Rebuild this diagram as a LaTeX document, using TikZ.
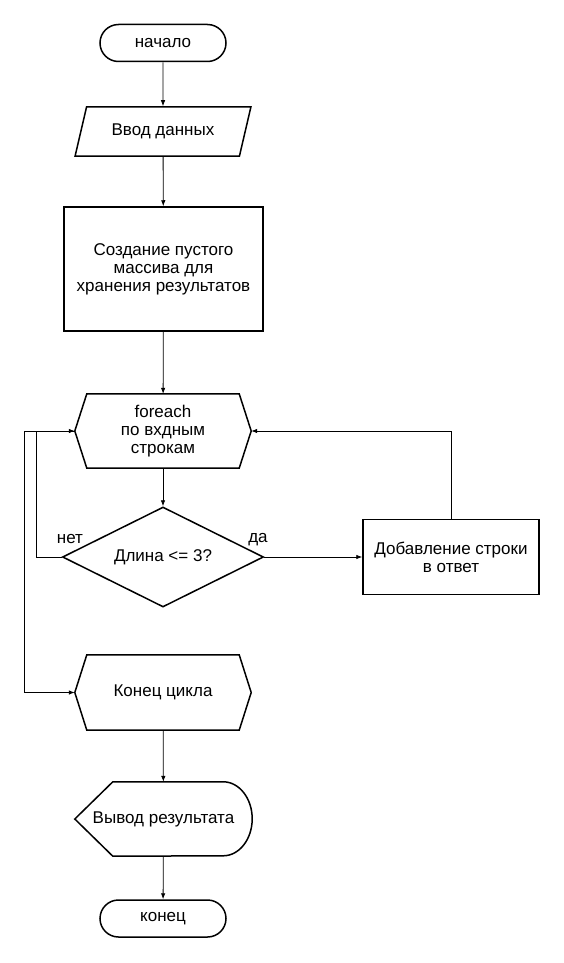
\documentclass[tikz,border=0pt]{standalone}
\usepackage{fontspec}
\setmainfont{Liberation Sans}
\usetikzlibrary{shapes.geometric,shapes.misc,arrows.meta}
\begin{document}
\begin{tikzpicture}[x=1pt,y=-1pt,
  every node/.style={font=\fontsize{17}{18}\selectfont, align=center, inner sep=0pt},
  shapeline/.style={draw, line width=1.5pt},
  termbox/.style={shapeline, rounded rectangle, minimum width=126pt, minimum height=37pt},
  iobox/.style={shapeline, trapezium, trapezium left angle=63, trapezium right angle=117,
    trapezium stretches=true, minimum width=176pt, minimum height=49pt},
  procbox/.style={shapeline, rectangle},
  ifbox/.style={shapeline, diamond, aspect=2, minimum width=201pt, minimum height=100pt},
  loopbox/.style={minimum width=176pt, minimum height=74pt,
    append after command={\pgfextra{\let\hexnode\tikzlastnode
      \draw[line width=1.5pt] ([xshift=12pt]\hexnode.north west) -- ([xshift=-12pt]\hexnode.north east)
        -- (\hexnode.east) -- ([xshift=-12pt]\hexnode.south east)
        -- ([xshift=12pt]\hexnode.south west) -- (\hexnode.west) -- cycle;}}},
  outbox/.style={minimum width=177pt, minimum height=74pt,
    append after command={\pgfextra{\let\outnode\tikzlastnode
      \draw[line width=1.5pt] (\outnode.west) -- ([xshift=38pt]\outnode.north west)
        -- ([xshift=-29pt]\outnode.north east) arc[start angle=90, end angle=-90, x radius=29pt, y radius=37pt]
        -- ([xshift=38pt]\outnode.south west) -- cycle;}}},
  arr/.style={-{Latex[length=6pt,width=4.5pt]}, line width=0.8pt}]
\useasboundingbox (0,0) rectangle (563,963);
% draw the blocks
\node[termbox] (start) at (163,43) {начало};
\node[iobox] (input) at (163,131.5) {Ввод данных};
\node[procbox, minimum width=199pt, minimum height=124pt] (init) at (163.5,269) {Создание пустого\\массива для\\хранения результатов};
\node[loopbox] (loop) at (163,431) {foreach\\по вхдным\\строкам};
\node[ifbox] (cond) at (163,557) {Длина <= 3?};
\node[procbox, minimum width=176pt, minimum height=75pt] (add) at (451,557) {Добавление строки\\в ответ};
\node[loopbox, minimum height=75pt] (endloop) at (163,692.5) {Конец цикла};
\node[outbox] (out) at (163.5,819) {Вывод результата};
\node[termbox] (stop) at (163,918.5) {конец};
% draw the arrows
\draw[arr] (start) -- (input);
\draw[arr] (input) -- (init);
\draw[arr] (init) -- (loop);
\draw[arr] (loop) -- (cond);
\draw[arr] (cond.east) -- (add.west);
\draw[arr] (add.north) |- (loop.east);
\draw[arr] (cond.west) -- ++(-25,0) |- (loop.west);
\draw[arr] (loop.west) -- ++(-50,0) |- (endloop.west);
\draw[arr] (endloop) -- (out);
\draw[arr] (out) -- (stop);
% add the labels
\node (no) at (70,539) {нет};
\node (yes) at (258,540) {да};
\end{tikzpicture}
\end{document}
